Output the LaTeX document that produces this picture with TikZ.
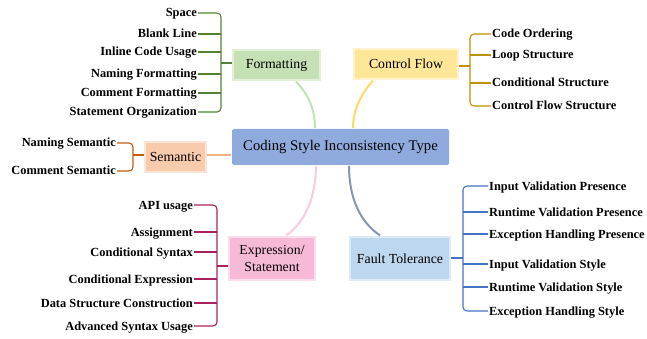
\documentclass[tikz,border=0pt]{standalone}
\usepackage{fontspec}
\setmainfont{Liberation Serif}
\usetikzlibrary{calc}

\definecolor{coreFill}{HTML}{8FAADC}
\definecolor{fmtFill}{HTML}{C5E0B4}\definecolor{fmtEdge}{HTML}{E2F0D9}\definecolor{fmtLine}{HTML}{548235}
\definecolor{cfFill}{HTML}{FFE699}\definecolor{cfEdge}{HTML}{FFF2CC}\definecolor{cfLine}{HTML}{BF9000}\definecolor{cfCurve}{HTML}{FFD966}
\definecolor{semFill}{HTML}{F8CBAD}\definecolor{semEdge}{HTML}{FBE5D6}\definecolor{semLine}{HTML}{C55A11}\definecolor{semCurve}{HTML}{F4B183}
\definecolor{expFill}{HTML}{F6BAD6}\definecolor{expEdge}{HTML}{FBDDEB}\definecolor{expLine}{HTML}{A9225C}\definecolor{expCurve}{HTML}{F8CBE0}
\definecolor{ftFill}{HTML}{BDD7EE}\definecolor{ftEdge}{HTML}{DEEBF7}\definecolor{ftLine}{HTML}{4472C4}\definecolor{ftCurve}{HTML}{8497B0}

\begin{document}
\begin{tikzpicture}[x=1pt,y=-1pt,
  topic/.style={line width=1.6pt, inner sep=0pt, align=center,
    font=\fontsize{13.8}{16.5}\selectfont},
  leafL/.style={anchor=east, inner sep=1pt, text height=10pt, text depth=2pt,
    font=\bfseries\fontsize{12.4}{14}\selectfont},
  leafR/.style={leafL, anchor=west},
  bracket/.style={line width=1.1pt, rounded corners=4pt},
  branch/.style={line width=2pt}]

\useasboundingbox (0,0) rectangle (647,339);

% central topic
\node[topic, fill=coreFill, rounded corners=1.5pt, minimum width=217pt, minimum height=36pt,
  font=\fontsize{14.7}{17}\selectfont] (core) at (340.5,147) {Coding Style Inconsistency Type};

% main branches
\node[topic, fill=fmtFill, draw=fmtEdge, minimum width=87pt, minimum height=30pt] (fmt) at (276.5,65) {Formatting};
\node[topic, fill=cfFill, draw=cfEdge, minimum width=104pt, minimum height=30pt] (cf) at (406,64) {Control Flow};
\node[topic, fill=semFill, draw=semEdge, minimum width=61pt, minimum height=30pt] (sem) at (175.5,157) {Semantic};
\node[topic, fill=expFill, draw=expEdge, minimum width=86pt, minimum height=43pt] (exp) at (272,258.5) {Expression/\\Statement};
\node[topic, fill=ftFill, draw=ftEdge, minimum width=100pt, minimum height=43pt] (ft) at (400,258.5) {Fault Tolerance};

% curved links to the central topic
\draw[branch, fmtFill] ($(fmt.south)+(19.5,0.8)$) .. controls (309,95) and (315,110) .. ($(core.north)+(-25.5,0)$);
\draw[branch, cfCurve] ($(cf.south)+(-33,0.8)$) .. controls (361,94) and (353,110) .. ($(core.north)+(12.5,0)$);
\draw[branch, semCurve] (sem.east |- 0,155) -- (core.west |- 0,155);
\draw[branch, expCurve] ($(core.south)+(-24.5,0)$) .. controls (316,195) and (306,222) .. ($(exp.north)+(14,-0.8)$);
\draw[branch, ftCurve] ($(core.south)+(8.5,0)$) .. controls (349,198) and (360,222) .. ($(ft.north)+(-20,-0.8)$);

% Formatting leaves
\node[leafL] (f1) at (198,13) {Space};
\node[leafL] (f2) at (198,34) {Blank Line};
\node[leafL] (f3) at (198,52) {Inline Code Usage};
\node[leafL] (f4) at (198,74) {Naming Formatting};
\node[leafL] (f5) at (198,93) {Comment Formatting};
\node[leafL] (f6) at (198,112) {Statement Organization};
\coordinate (fb) at (221,63);
\draw[bracket, fmtLine] (f1.east) -| (fb) |- (f6.east);
\foreach \n in {f2,f3,f4,f5} \draw[line width=1.1pt, fmtLine] (\n.east) -- (\n.east -| fb);
\draw[line width=1.1pt, fmtLine] (fmt.west |- fb) -- (fb);

% Control Flow leaves
\node[leafR] (c1) at (491,34) {Code Ordering};
\node[leafR] (c2) at (491,55) {Loop Structure};
\node[leafR] (c3) at (491,83) {Conditional Structure};
\node[leafR] (c4) at (491,106) {Control Flow Structure};
\coordinate (cb) at (470,66);
\draw[bracket, cfLine] (c1.west) -| (cb) |- (c4.west);
\foreach \n in {c2,c3} \draw[line width=1.1pt, cfLine] (\n.west) -- (\n.west -| cb);
\draw[line width=1.1pt, cfLine] (cf.east |- cb) -- (cb);

% Semantic leaves
\node[leafL] (s1) at (117,143) {Naming Semantic};
\node[leafL] (s2) at (117,171) {Comment Semantic};
\coordinate (sb) at (133,155);
\draw[bracket, semLine] (s1.east) -| (sb) |- (s2.east);
\draw[line width=1.1pt, semLine] (sem.west |- sb) -- (sb);

% Expression/Statement leaves
\node[leafL] (e1) at (194,205) {API usage};
\node[leafL] (e2) at (194,232) {Assignment};
\node[leafL] (e3) at (194,252) {Conditional Syntax};
\node[leafL] (e4) at (194,279) {Conditional Expression};
\node[leafL] (e5) at (194,303) {Data Structure Construction};
\node[leafL] (e6) at (194,326) {Advanced Syntax Usage};
\coordinate (eb) at (217,266);
\draw[bracket, expLine] (e1.east) -| (eb) |- (e6.east);
\foreach \n in {e2,e3,e4,e5} \draw[line width=1.1pt, expLine] (\n.east) -- (\n.east -| eb);
\draw[line width=1.1pt, expLine] (exp.west |- eb) -- (eb);

% Fault Tolerance leaves
\node[leafR] (t1) at (488,186) {Input Validation Presence};
\node[leafR] (t2) at (488,212) {Runtime Validation Presence};
\node[leafR] (t3) at (488,234) {Exception Handling Presence};
\node[leafR] (t4) at (488,264) {Input Validation Style};
\node[leafR] (t5) at (488,287) {Runtime Validation Style};
\node[leafR] (t6) at (488,311) {Exception Handling Style};
\coordinate (tb) at (463,258);
\draw[bracket, ftLine] (t1.west) -| (tb) |- (t6.west);
\foreach \n in {t2,t3,t4,t5} \draw[line width=1.1pt, ftLine] (\n.west) -- (\n.west -| tb);
\draw[line width=1.1pt, ftLine] (ft.east |- tb) -- (tb);

\end{tikzpicture}
\end{document}
